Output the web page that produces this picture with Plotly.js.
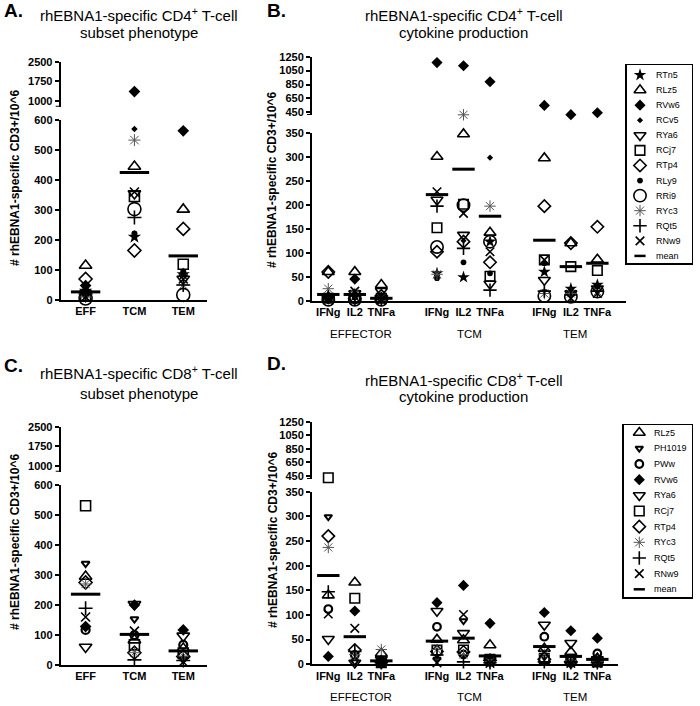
<!DOCTYPE html>
<html>
<head>
<meta charset="utf-8">
<script src="https://cdn.plot.ly/plotly-3.0.1.min.js"></script>
<style>
  body { margin: 0; background: #fff; }
  #chart { width: 700px; height: 706px; }
</style>
</head>
<body>
<div id="chart"></div>
<script>
// ---- data ----
var subsetCats = ['EFF', 'TCM', 'TEM'];
var subsetPos = [0, 1, 2];
var cytoLabels = ['IFNg', 'IL2', 'TNFa', 'IFNg', 'IL2', 'TNFa', 'IFNg', 'IL2', 'TNFa'];
var cytoPos = [0, 1, 2, 4.1, 5.1, 6.1, 8.15, 9.15, 10.15];
var groupLabels = ['EFFECTOR', 'TCM', 'TEM'];

var cd4Animals = ['RTn5', 'RLz5', 'RVw6', 'RCv5', 'RYa6', 'RCj7', 'RTp4', 'RLy9', 'RRi9', 'RYc3', 'RQt5', 'RNw9'];
var cd8Animals = ['RLz5', 'PH1019', 'PWw', 'RVw6', 'RYa6', 'RCj7', 'RTp4', 'RYc3', 'RQt5', 'RNw9'];

// A: rows EFF, TCM, TEM; columns follow cd4Animals
var cd4Subset = [
    [30, 115, 48, 35, 20, 15, 70, 40, 5, 10, 20, 10],
    [210, 445, 1350, 570, 355, 345, 165, 222, 303, 533, 275, 360],
    [85, 302, 564, 90, 70, 119, 237, 95, 17, 50, 50, 70]
];
var cd4SubsetMean = [27, 425, 147];

// B: rows follow cytoLabels; columns follow cd4Animals
var cd4Cyto = [
    [10, 60, 8, 10, 5, 5, 60, 5, 2, 25, 8, 5],
    [10, 60, 45, 5, 15, 5, 5, 8, 2, 15, 10, 20],
    [3, 33, 5, 2, 20, 5, 10, 3, 2, 5, 5, 3],
    [57, 300, 1165, 50, 210, 152, 102, 47, 112, 55, 197, 227],
    [49, 347, 1120, 125, 137, 201, 123, 80, 199, 415, 109, 182],
    [123, 142, 890, 298, 35, 51, 80, 57, 123, 197, 22, 102],
    [60, 297, 550, 80, 43, 85, 197, 78, 10, 15, 20, 85],
    [25, 120, 417, 20, 15, 71, 120, 22, 8, 15, 12, 5],
    [33, 86, 445, 28, 25, 63, 154, 30, 19, 19, 20, 15]
];
var cd4CytoMean = [13, 13, 5, 221, 274, 176, 126, 71, 78];

// C: rows EFF, TCM, TEM; columns follow cd8Animals
var cd8Subset = [
    [295, 338, 117, 128, 60, 531, 275, 270, 189, 160],
    [83, 153, 100, 200, 202, 67, 41, 41, 17, 113],
    [55, 20, 67, 117, 97, 40, 28, 30, 15, 10]
];
var cd8SubsetMean = [236, 102, 47];

// D: rows follow cytoLabels; columns follow cd8Animals
var cd8Cyto = [
    [140, 299, 112, 16, 51, 425, 260, 237, 147, 102],
    [166, 5, 19, 108, 3, 134, 29, 20, 26, 73],
    [22, 2, 4, 5, 10, 3, 5, 30, 3, 2],
    [50, 10, 76, 125, 108, 29, 26, 30, 19, 3],
    [49, 88, 20, 160, 63, 29, 25, 20, 5, 101],
    [39, 3, 5, 83, 8, 10, 8, 5, 3, 2],
    [32, 15, 56, 105, 80, 12, 10, 20, 5, 25],
    [25, 5, 10, 68, 43, 10, 5, 8, 3, 2],
    [12, 3, 22, 53, 10, 5, 8, 5, 3, 2]
];
var cd8CytoMean = [180, 56, 7, 47, 53, 17, 36, 16, 10];

// ---- styles ----
var F = 'Liberation Sans, Arial, Helvetica, sans-serif';
var styles = {
    RTn5: { symbol: 'star', size: 10 },
    RLz5: { symbol: 'triangle-up-open', size: 11, lw: 1.6 },
    RVw6: { symbol: 'diamond', size: 9 },
    RCv5: { symbol: 'diamond', size: 5 },
    RYa6: { symbol: 'triangle-down-open', size: 11, lw: 1.6 },
    RCj7: { symbol: 'square-open', size: 10, lw: 1.6 },
    RTp4: { symbol: 'diamond-open', size: 10, lw: 1.6 },
    RLy9: { symbol: 'circle', size: 6 },
    RRi9: { symbol: 'circle-open', size: 13, lw: 1.6 },
    RYc3: { symbol: 'asterisk-open', size: 10, lw: 1, color: '#555' },
    RQt5: { symbol: 'cross-thin-open', size: 10, lw: 1.6 },
    RNw9: { symbol: 'x-thin-open', size: 9, lw: 1.6 },
    PH1019: { symbol: 'triangle-down-open', size: 7, lw: 2 },
    PWw: { symbol: 'circle-open', size: 8, lw: 2.2 }
};

function px(x) { return x / 700; }
function py(y) { return 1 - y / 706; }

function markerFor(name, k) {
    var s = styles[name];
    var col = s.color || '#000';
    return { symbol: s.symbol, size: s.size * k, color: col, line: { width: s.lw || 0, color: col } };
}

var traces = [];
var layout = {
    width: 700, height: 706,
    margin: { l: 0, r: 0, t: 0, b: 0 },
    paper_bgcolor: '#fff', plot_bgcolor: 'rgba(0,0,0,0)',
    showlegend: false,
    font: { family: F, color: '#000' },
    annotations: [], shapes: []
};

function xAxis(l, r, range, anchor, vals, text) {
    return {
        domain: [px(l), px(r)], range: range, anchor: anchor,
        tickmode: 'array', tickvals: vals, ticktext: text,
        showline: true, linewidth: 2, linecolor: '#000', ticks: '',
        showgrid: false, zeroline: false, fixedrange: true,
        tickfont: { family: F, size: 11, weight: 'bold', color: '#000' }
    };
}
function yAxis(bottom, top, range, anchor, vals) {
    return {
        domain: [py(bottom), py(top)], range: range, anchor: anchor,
        tickmode: 'array', tickvals: vals, ticktext: vals.map(String),
        showline: true, linewidth: 2, linecolor: '#000',
        ticks: 'outside', ticklen: 4, tickwidth: 2, tickcolor: '#000',
        showgrid: false, zeroline: false, fixedrange: true,
        tickfont: { family: F, size: 11, weight: 'bold', color: '#000' }
    };
}
function boxAxis(a, b, range, anchor) {
    return {
        domain: [a, b], range: range, anchor: anchor,
        showline: true, mirror: true, linewidth: 1.5, linecolor: '#000',
        ticks: '', showticklabels: false, showgrid: false, zeroline: false, fixedrange: true
    };
}

// panel axes
layout.xaxis = xAxis(60.7, 206.7, [-0.51, 2.48], 'y', subsetPos, subsetCats);
layout.yaxis = yAxis(300, 120, [0, 600], 'x', [0, 100, 200, 300, 400, 500, 600]);
layout.yaxis2 = yAxis(106.7, 61.7, [769, 2500], 'x', [1000, 1750, 2500]);

layout.xaxis2 = xAxis(312, 626, [-0.615, 11.23], 'y3', cytoPos, cytoLabels);
layout.yaxis3 = yAxis(300.7, 132.7, [0, 350], 'x2', [0, 50, 100, 150, 200, 250, 300, 350]);
layout.yaxis4 = yAxis(115, 56.7, [412, 1250], 'x2', [450, 650, 850, 1050, 1250]);

layout.xaxis3 = xAxis(60.7, 206.7, [-0.51, 2.48], 'y5', subsetPos, subsetCats);
layout.yaxis5 = yAxis(665, 485, [0, 600], 'x3', [0, 100, 200, 300, 400, 500, 600]);
layout.yaxis6 = yAxis(471.7, 426.7, [769, 2500], 'x3', [1000, 1750, 2500]);

layout.xaxis4 = xAxis(312, 618, [-0.615, 10.93], 'y7', cytoPos, cytoLabels);
layout.yaxis7 = yAxis(664.3, 491.7, [0, 350], 'x4', [0, 50, 100, 150, 200, 250, 300, 350]);
layout.yaxis8 = yAxis(479, 421.7, [407, 1250], 'x4', [450, 650, 850, 1050, 1250]);

// legend boxes
layout.xaxis5 = boxAxis(px(626.7), px(691.7), [0, 65], 'y9');
layout.yaxis9 = boxAxis(py(263.3), py(65), [12.49, -0.663], 'x5');
layout.xaxis6 = boxAxis(px(623.5), px(691.7), [0, 68.2], 'y10');
layout.yaxis10 = boxAxis(py(597.3), py(425), [10.51, -0.49], 'x6');

function addPanel(rows, xs, means, animals, xa, ylo, yhi, cut, k, meanSize) {
    animals.forEach(function (name, j) {
        var lo = rows.map(function (r) { return r[j] <= cut ? r[j] : null; });
        var hi = rows.map(function (r) { return r[j] > cut ? r[j] : null; });
        traces.push({ x: xs, y: lo, xaxis: xa, yaxis: ylo, mode: 'markers', name: name,
            marker: markerFor(name, k), cliponaxis: false, hoverinfo: 'skip' });
        if (hi.some(function (v) { return v !== null; })) {
            traces.push({ x: xs, y: hi, xaxis: xa, yaxis: yhi, mode: 'markers', name: name,
                marker: markerFor(name, k), cliponaxis: false, hoverinfo: 'skip' });
        }
    });
    traces.push({ x: xs, y: means, xaxis: xa, yaxis: ylo, mode: 'markers', name: 'mean',
        marker: { symbol: 'line-ew-open', size: meanSize, color: '#000', line: { width: 3, color: '#000' } },
        cliponaxis: false, hoverinfo: 'skip' });
}

addPanel(cd4Subset, subsetPos, cd4SubsetMean, cd4Animals, 'x', 'y', 'y2', 600, 1, 21);
addPanel(cd4Cyto, cytoPos, cd4CytoMean, cd4Animals, 'x2', 'y3', 'y4', 350, 0.95, 16);
addPanel(cd8Subset, subsetPos, cd8SubsetMean, cd8Animals, 'x3', 'y5', 'y6', 600, 1, 21);
addPanel(cd8Cyto, cytoPos, cd8CytoMean, cd8Animals, 'x4', 'y7', 'y8', 350, 0.95, 16);

function addLegend(animals, xa, ya, mx, tx) {
    animals.forEach(function (name, i) {
        traces.push({ x: [mx], y: [i], xaxis: xa, yaxis: ya, mode: 'markers',
            marker: markerFor(name, 0.95), cliponaxis: false, hoverinfo: 'skip' });
    });
    traces.push({ x: [mx], y: [animals.length], xaxis: xa, yaxis: ya, mode: 'markers',
        marker: { symbol: 'line-ew-open', size: 8, color: '#000', line: { width: 2.5, color: '#000' } },
        cliponaxis: false, hoverinfo: 'skip' });
    animals.concat(['mean']).forEach(function (n, i) {
        layout.annotations.push({ xref: xa, yref: ya, x: tx, y: i, text: n, showarrow: false,
            xanchor: 'left', yanchor: 'middle', font: { family: F, size: 9, color: '#000' } });
    });
}
addLegend(cd4Animals, 'x5', 'y9', 13.3, 27);
addLegend(cd8Animals, 'x6', 'y10', 15.8, 28.5);

// break marks at the bottom of the upper segments
[['y2', 769, 60.7], ['y4', 412, 312], ['y6', 769, 60.7], ['y8', 407, 312]].forEach(function (b) {
    layout.shapes.push({ type: 'line', xref: 'paper', yref: b[0], x0: px(b[2] - 5), x1: px(b[2]),
        y0: b[1], y1: b[1], line: { color: '#000', width: 2 } });
});

function note(x, y, text, size, opts) {
    var a = { xref: 'paper', yref: 'paper', x: px(x), y: py(y), text: text, showarrow: false,
        xanchor: 'center', yanchor: 'middle', font: { family: F, size: size, color: '#000' } };
    for (var key in (opts || {})) { a[key] = opts[key]; }
    layout.annotations.push(a);
}

// panel letters and titles
var letterFont = { family: F, size: 19, weight: 'bold', color: '#000' };
note(2, 10, 'A.', 19, { xanchor: 'left', font: letterFont });
note(265, 10, 'B.', 19, { xanchor: 'left', font: letterFont });
note(2, 365, 'C.', 19, { xanchor: 'left', font: letterFont });
note(265, 363, 'D.', 19, { xanchor: 'left', font: letterFont });

note(139, 15, 'rhEBNA1-specific CD4<sup>+</sup> T-cell', 15);
note(139, 32, 'subset phenotype', 15);
note(464, 15, 'rhEBNA1-specific CD4<sup>+</sup> T-cell', 15);
note(464, 32, 'cytokine production', 15);
note(139, 372, 'rhEBNA1-specific CD8<sup>+</sup> T-cell', 15);
note(139, 393, 'subset phenotype', 15);
note(464, 380, 'rhEBNA1-specific CD8<sup>+</sup> T-cell', 15);
note(464, 396, 'cytokine production', 15);

// y axis titles
var yTitle = '# rhEBNA1-specific CD3+/10^6';
var boldTitle = { family: F, size: 12, weight: 'bold', color: '#000' };
note(15, 178, yTitle, 12, { textangle: -90, font: boldTitle });
note(272, 180, yTitle, 12, { textangle: -90, font: boldTitle });
note(15, 542, yTitle, 12, { textangle: -90, font: boldTitle });
note(273, 540, yTitle, 12, { textangle: -90, font: boldTitle });

// group labels under the cytokine panels
var groupX = [361, 469, 575];
groupLabels.forEach(function (g, i) {
    note(groupX[i], 334, g, 11.5);
    note(groupX[i], 697, g, 11.5);
});

Plotly.newPlot('chart', traces, layout, { staticPlot: true, displayModeBar: false });
</script>
</body>
</html>
